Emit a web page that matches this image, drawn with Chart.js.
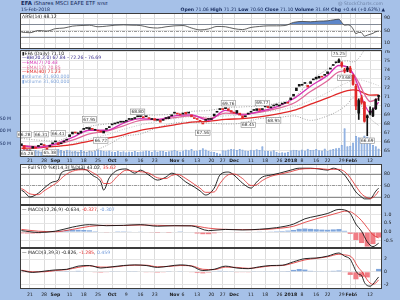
<!DOCTYPE html>
<html>
<head>
<meta charset="utf-8">
<script src="https://cdn.jsdelivr.net/npm/chart.js@4.4.1/dist/chart.umd.min.js"></script>
<style>
  body { margin: 0; width: 400px; height: 300px; background: #a6c1e8; position: relative; overflow: hidden; font-family: "DejaVu Sans", sans-serif; }
  canvas { position: absolute; left: 0; }
  .t { position: absolute; white-space: nowrap; font-size: 4.6px; line-height: 1; color: #14285a; }
  .lg div { height: 4.7px; }
</style>
</head>
<body>
<canvas id="cRsi" width="400" height="36" style="top:13px"></canvas>
<canvas id="cPrice" width="400" height="114" style="top:50px"></canvas>
<canvas id="cSto" width="400" height="41" style="top:164px"></canvas>
<canvas id="cMacd" width="400" height="43" style="top:205px"></canvas>
<canvas id="cMacd2" width="400" height="52" style="top:248px"></canvas>

<div class="t" style="left:21px;top:1px;font-size:5.4px"><b>EFA</b> iShares MSCI EAFE ETF <span style="font-size:4px">NYSE</span></div>
<div class="t" style="left:21px;top:7.6px">15-Feb-2018</div>
<div class="t" style="right:17px;top:1.5px;color:#6f84a8">@ StockCharts.com</div>
<div class="t" style="right:15px;top:7.6px"><b>Open</b> 71.06 <b>High</b> 71.21 <b>Low</b> 70.60 <b>Close</b> 71.10 <b>Volume</b> 31.6M <b>Chg</b> +0.44 (+0.62%) &#9650;</div>

<div class="t" style="left:22px;top:14.5px;color:#222">&#923;RSI(14) 48.12</div>
<div class="t lg" style="left:22px;top:51.5px;color:#222">
  <div>&#9646;EFA (Daily) 71.10</div>
  <div style="color:#3b2f8f">&#8212;BB(20,2.0) 67.84 - 72.26 - 76.69</div>
  <div style="color:#d62fb4">&#8212;EMA(7) 70.43</div>
  <div style="color:#e0689a">&#8212;EMA(12) 70.85</div>
  <div style="color:#e02828">&#8212;EMA(40) 71.23</div>
  <div style="color:#86a9dc">&#9646;Volume 31,600,000</div>
  <div style="color:#86a9dc">&#9646;Volume 31,600,000</div>
</div>
<div class="t" style="left:22px;top:166px;color:#222">&#8212; Full STO %K(14,3) %D(3) 43.02, <span style="color:#e02828">35.62</span></div>
<div class="t" style="left:22px;top:208px;color:#222">&#8212; MACD(12,26,9) -0.634, <span style="color:#e02828">-0.327</span>, <span style="color:#6f98d8">-0.307</span></div>
<div class="t" style="left:22px;top:251px;color:#222">&#8212; MACD(3,39,3) -0.826, <span style="color:#e02828">-1.285</span>, <span style="color:#6f98d8">0.459</span></div>

<script>
// x axis: trading day index (0 = 16 Aug 2017 ... 126 = 15 Feb 2018)
const tickIdx  = [3, 8, 12, 17, 22, 27, 32, 37, 42, 47, 54, 57, 62, 67, 71, 75, 81, 86, 91, 95, 99, 104, 108, 113, 116, 118, 123];
const tickText = ['21','28','Sep','11','18','25','Oct','9','16','23','Nov','6','13','20','27','Dec','11','18','26','2018','8','16','22','29','Feb','5','12'];
const boldTicks = ['Sep','Oct','Nov','Dec','2018','Feb'];

// daily prices
const closes = [65.8,65.2,65.0,65.0,65.5,65.3,65.5,65.8,65.7,65.3,65.6,65.9,
  66.0,65.7,65.9,66.1,66.2,66.8,67.1,67.0,67.0,67.2,67.4,67.5,67.6,67.4,67.4,67.2,67.1,67.2,67.5,67.7,
  67.9,68.1,68.1,68.3,68.3,68.3,68.6,68.6,68.6,68.8,68.8,68.7,68.9,68.6,68.6,68.4,68.4,68.2,68.5,68.7,68.8,69.0,
  69.2,69.1,69.0,69.2,69.1,69.3,68.8,68.7,68.5,68.3,68.0,68.5,68.5,68.6,69.1,69.4,69.7,69.6,69.8,69.5,69.3,
  69.2,69.2,69.0,68.7,68.9,69.2,69.4,69.5,69.7,69.5,69.6,70.0,69.8,69.9,70.1,70.1,70.1,70.2,70.4,70.3,
  70.9,71.3,72.0,72.4,72.4,72.5,72.3,72.7,73.0,73.0,73.3,73.2,73.5,73.8,74.2,74.6,74.9,75.1,74.5,73.9,74.0,
  73.9,72.4,70.0,70.6,70.4,68.3,68.7,69.2,69.6,70.7,71.1];
const opens = [65.6,65.6,65.1,65.0,65.3,65.4,65.5,65.7,65.6,65.0,65.5,65.8,
  66.1,65.9,65.8,66.0,66.2,66.6,66.9,67.0,66.9,67.0,67.4,67.5,67.4,67.5,67.3,67.3,67.2,67.0,67.4,67.6,
  67.9,68.0,68.1,68.2,68.2,68.3,68.5,68.5,68.7,68.8,68.9,68.7,68.8,68.6,68.5,68.6,68.4,68.4,68.4,68.6,68.6,68.9,
  69.3,69.1,69.0,69.1,69.3,69.2,69.0,68.6,68.6,68.3,68.1,68.4,68.6,68.5,68.9,69.3,69.6,69.7,69.7,69.7,69.5,
  69.3,69.5,69.2,68.9,68.8,69.1,69.3,69.5,69.5,69.7,69.6,69.9,70.0,69.8,70.0,70.1,70.0,70.2,70.3,70.4,
  70.7,71.1,71.7,72.2,72.3,72.5,72.1,72.5,72.9,73.2,73.1,73.3,73.4,73.6,74.1,74.5,74.8,74.9,74.8,74.0,74.2,
  74.2,73.4,72.2,69.2,70.9,70.4,68.9,69.4,68.9,69.7,71.06];
const wickIdx = [112,113,114,115,116,117,118,119,120,121,122,123,124,125,126];
const wickHi  = [75.25,74.9,74.2,74.4,74.4,73.5,72.4,70.8,71.2,70.5,69.0,69.9,69.8,70.8,71.21];
const wickLo  = [74.8,74.3,73.68,73.8,73.7,72.3,69.6,68.5,70.2,68.2,66.7,69.0,68.8,69.6,70.6];
// volume, millions
const volume = [28,32,30,25,22,26,24,20,22,30,26,28,
  24,30,26,22,27,25,21,23,20,26,22,19,24,20,23,28,25,22,21,24,
  20,18,22,19,21,17,20,19,22,18,20,21,24,22,19,25,20,23,22,19,21,24,
  26,22,20,24,28,25,30,22,24,27,33,28,22,20,18,15,12,25,24,28,30,
  29,26,30,28,24,22,27,25,29,26,40,24,22,21,25,18,15,17,16,19,
  25,27,26,24,28,24,31,26,27,30,25,24,32,23,28,30,33,35,45,110,40,
  42,55,80,75,60,82,78,52,45,40,31.6];

// overlays
const maIdx = [0,6,12,18,24,30,36,42,48,54,60,66,72,78,84,90,96,102,108,112,115,117,119,121,123,126];
const bbUp  = [66.4,66.2,66.1,66.8,67.7,68.0,68.2,68.9,69.0,69.1,69.4,69.5,69.8,69.9,70.0,70.3,70.9,72.8,74.1,74.9,75.0,74.9,75.3,76.2,76.6,76.69];
const bbMid = [65.6,65.5,65.5,65.8,66.3,66.8,67.4,67.9,68.3,68.6,68.8,68.8,68.9,69.0,69.3,69.5,69.9,70.6,71.5,72.2,72.6,72.9,72.9,72.8,72.6,72.26];
const bbLow = [64.8,64.8,64.9,64.8,64.9,65.6,66.6,66.9,67.6,68.1,68.2,68.1,68.0,68.1,68.6,68.7,68.9,68.4,68.9,69.5,70.2,70.9,70.5,69.4,68.6,67.84];
const ema7  = [65.6,65.4,65.8,66.5,67.3,67.3,68.1,68.6,68.5,68.9,69.0,68.4,69.5,69.0,69.4,69.9,70.8,72.2,73.4,74.5,74.3,73.6,72.0,70.2,69.3,70.43];
const ema12 = [65.6,65.5,65.7,66.2,66.9,67.2,67.8,68.4,68.5,68.7,68.9,68.6,69.2,69.1,69.3,69.7,70.3,71.6,72.8,73.8,73.9,73.6,72.6,71.3,70.5,70.85];
const ema40 = [65.3,65.35,65.5,65.7,66.1,66.4,66.8,67.3,67.6,67.9,68.2,68.3,68.5,68.6,68.8,69.1,69.5,70.2,70.9,71.4,71.7,71.8,71.7,71.4,71.2,71.23];

// price annotations
const lblIdx = [1, 7, 13, 2, 10, 24, 28, 41, 64, 73, 80, 85, 89, 112, 114, 122];
const lblVal = [66.28,66.31,66.41,65.28,65.38,67.95,66.72,68.80,67.56,69.76,68.45,69.77,68.95,75.25,73.68,66.69];
const lblUp  = [1,1,1,0,0,1,0,1,0,1,0,1,0,1,0,0];

// RSI(14)
const rsiIdx = [0,3,6,9,12,15,18,21,24,27,30,33,36,39,42,45,48,51,54,57,60,63,66,69,72,75,78,81,84,87,90,93,96,99,102,105,108,110,112,113,114,115,116,117,118,119,120,121,122,123,124,125,126];
const rsiVal = [45,43,50,48,56,58,64,66,67,62,64,67,68,67,66,60,58,62,65,66,58,52,55,63,62,56,53,60,63,65,65,66,76,79,78,80,81,84,86,76,67,68,66,55,40,44,43,32,35,38,41,46,48.12];
const rsiLevels = [30, 50, 70];

// Full STO
const stoIdx = [0,1,3,6,8,11,13,14,17,21,23,25,28,29,31,34,37,40,42,45,48,51,53,55,58,61,63,65,68,70,73,75,78,81,83,85,88,91,95,98,102,105,108,110,112,114,116,118,120,121,123,125,126];
const stoK = [38,33,20,30,43,59,64,82,90,93,90,77,59,38,70,90,93,82,90,77,64,72,82,77,59,46,36,25,43,77,85,77,56,43,59,72,77,82,90,95,95,93,90,95,90,77,56,33,20,15,15,35,43.02];
const stoD = [42,38,28,26,36,50,60,68,84,91,91,84,68,55,55,75,90,87,86,82,70,68,76,79,68,53,43,32,33,55,78,80,68,50,52,63,74,79,86,92,94,94,92,92,92,86,70,48,28,22,16,25,35.62];
const stoLevels = [20, 50, 80];

// MACD(12,26,9)
const macdIdx = [0,6,12,18,24,30,36,42,48,54,60,66,72,78,84,90,96,100,104,108,112,114,116,118,120,122,124,126];
const macdLine = [0.08,-0.02,0.05,0.28,0.42,0.36,0.38,0.42,0.33,0.36,0.35,0.08,0.15,0.12,0.16,0.25,0.45,0.75,0.9,1.05,1.28,1.25,1.05,0.45,0.05,-0.55,-0.82,-0.634];
const macdSig  = [0.15,0.05,0.02,0.15,0.32,0.38,0.37,0.40,0.38,0.36,0.36,0.22,0.15,0.14,0.14,0.2,0.33,0.55,0.75,0.92,1.1,1.18,1.15,0.95,0.65,0.25,-0.15,-0.327];
// histogram, one value every 2 trading days
const macdHist = [-0.07,-0.08,-0.08,-0.07,-0.05,0.0,0.03,0.07,0.10,0.13,
  0.13,0.12,0.10,0.05,0.0,-0.02,0.0,0.01,0.01,0.02,
  0.03,0.02,0.0,-0.02,-0.05,-0.03,-0.01,0.0,0.01,0.0,
  -0.03,-0.08,-0.12,-0.12,-0.07,-0.02,0.0,0.0,-0.02,-0.03,
  -0.02,0.0,0.02,0.03,0.04,0.05,0.06,0.08,0.12,0.18,
  0.20,0.18,0.16,0.14,0.13,0.15,0.17,0.07,-0.10,-0.45,
  -0.62,-0.82,-0.68,-0.307];

// MACD(3,39,3)
const m2Idx = [0,4,8,12,16,20,24,28,32,36,40,44,48,52,56,60,64,68,72,76,80,84,88,92,96,100,104,108,112,114,116,117,118,119,120,121,122,123,124,125,126];
const m2Line = [0.2,-0.1,0.1,0.3,0.4,0.9,1.0,0.6,0.8,1.0,1.1,1.0,0.7,0.9,1.1,0.9,0.2,0.4,0.9,0.6,0.5,0.8,1.0,1.05,1.6,2.1,2.2,2.5,3.0,2.5,2.0,1.1,0.1,-0.4,-0.6,-1.7,-2.2,-2.3,-2.0,-1.4,-0.826];
const m2Sig  = [0.25,0.0,0.0,0.2,0.35,0.7,0.95,0.75,0.75,0.95,1.05,1.05,0.8,0.85,1.0,0.95,0.4,0.35,0.75,0.7,0.55,0.7,0.95,1.0,1.4,1.9,2.15,2.4,2.8,2.7,2.5,2.1,1.3,0.6,0.1,-0.6,-1.3,-1.8,-2.0,-1.8,-1.285];
const m2Hist = [-0.05,-0.1,-0.1,0.05,0.05,0.05,0.1,0.05,0.03,0.1,
  0.15,0.1,0.08,-0.05,-0.15,-0.1,0.05,0.1,0.08,0.05,
  0.05,0.0,-0.05,-0.1,-0.15,-0.05,0.05,0.08,0.05,0.0,
  -0.1,-0.2,-0.25,-0.15,0.05,0.15,0.12,0.05,-0.05,-0.1,
  -0.05,0.05,0.1,0.05,0.05,0.05,0.05,0.03,0.3,0.45,
  0.35,0.15,0.05,0.05,0.1,0.15,0.2,-0.1,-0.5,-1.2,
  -0.8,-0.9,0.0,0.459];
const histStep = 2;

// ---------------------------------------------------------------
const X_MIN = -0.5, X_MAX = 127.2;
const RED = '#e02828', BLUE_H = '#7fa6dc', RED_H = '#f07c84';

Chart.defaults.font.family = '"DejaVu Sans", sans-serif';
Chart.defaults.font.size = 4.6;
Chart.defaults.color = '#1a1a1a';

// white plot area + dark frame for every panel
Chart.register({
  id: 'panelFrame',
  beforeDraw(c) {
    const a = c.chartArea, g = c.ctx;
    g.save(); g.fillStyle = '#fff'; g.fillRect(a.left, a.top, a.width, a.height); g.restore();
  },
  afterDraw(c) {
    const a = c.chartArea, g = c.ctx;
    g.save(); g.strokeStyle = '#3c3c3c'; g.lineWidth = 1;
    g.strokeRect(a.left + 0.5, a.top + 0.5, a.width - 1, a.height - 1); g.restore();
  }
});

function refLines(levels) {
  return {
    id: 'refLines',
    beforeDatasetsDraw(c) {
      const y = c.scales.y, a = c.chartArea, g = c.ctx;
      levels.forEach((v, i) => {
        const py = Math.round(y.getPixelForValue(v)) + 0.5;
        g.save();
        g.strokeStyle = i === 1 ? '#9a9a9a' : '#8c8c8c';
        g.setLineDash(i === 1 ? [3, 1, 1, 1] : []);
        g.beginPath(); g.moveTo(a.left, py); g.lineTo(a.right, py); g.stroke();
        g.restore();
      });
    }
  };
}

const priceLabels = {
  id: 'priceLabels',
  afterDatasetsDraw(c) {
    const xs = c.scales.x, ys = c.scales.y, g = c.ctx;
    g.save();
    g.font = '4.3px "DejaVu Sans", sans-serif';
    g.textAlign = 'center'; g.textBaseline = 'middle';
    lblIdx.forEach((ix, k) => {
      const txt = lblVal[k].toFixed(2);
      const w = g.measureText(txt).width + 2, h = 5.5;
      const px = xs.getPixelForValue(ix);
      const py = ys.getPixelForValue(lblVal[k]) + (lblUp[k] ? -5 : 5);
      g.fillStyle = '#fff'; g.strokeStyle = '#8a8a8a'; g.lineWidth = 0.6;
      g.fillRect(px - w / 2, py - h / 2, w, h);
      g.strokeRect(px - w / 2, py - h / 2, w, h);
      g.fillStyle = '#333';
      g.fillText(txt, px, py + 0.3);
    });
    g.restore();
  }
};

function xAxis(labelH) {
  return {
    type: 'linear', min: X_MIN, max: X_MAX, offset: false,
    afterBuildTicks: s => { s.ticks = tickIdx.map(v => ({ value: v })); },
    afterFit: s => { s.height = labelH; s.paddingLeft = 0; s.paddingRight = 0; },
    grid: { color: '#dcdcdc', drawTicks: false, offset: false },
    border: { display: false },
    ticks: {
      display: labelH > 0, autoSkip: false, maxRotation: 0, minRotation: 0,
      padding: labelH > 8 ? 3 : 1.5, color: '#1a1a1a',
      font: c => ({ size: 4.6, weight: boldTicks.includes(tickText[c.index]) ? 'bold' : 'normal' }),
      callback: (v, i) => tickText[i]
    }
  };
}

function yAxis(min, max, ticks, fmt) {
  return {
    position: 'right', min, max,
    afterBuildTicks: s => { s.ticks = ticks.map(v => ({ value: v })); },
    afterFit: s => { s.width = 18; s.paddingTop = 0; s.paddingBottom = 0; },
    grid: { color: '#e4e4e4', drawTicks: false },
    border: { display: false },
    ticks: { padding: 2, color: '#1a1a1a', callback: fmt || (v => v) }
  };
}

const pts = (xs, ys) => xs.map((x, i) => ({ x, y: ys[i] }));
function line(xs, ys, color, width, extra) {
  return Object.assign({
    type: 'line', data: pts(xs, ys), borderColor: color, borderWidth: width,
    pointRadius: 0, fill: false, cubicInterpolationMode: 'monotone'
  }, extra || {});
}
function histogram(vals, order) {
  return {
    type: 'bar', grouped: false, order: order,
    data: vals.map((v, i) => ({ x: i * histStep, y: v })),
    backgroundColor: vals.map(v => v >= 0 ? BLUE_H : RED_H),
    barPercentage: 1, categoryPercentage: 0.9
  };
}
function baseOptions(scales, padLeft) {
  return {
    responsive: false, animation: false, devicePixelRatio: 1, events: [],
    layout: { padding: { left: padLeft, right: 0, top: 0, bottom: 0 } },
    plugins: { legend: { display: false }, tooltip: { enabled: false } },
    scales
  };
}

// RSI panel
new Chart(document.getElementById('cRsi'), {
  type: 'line',
  data: { datasets: [
    line(rsiIdx, rsiVal, '#3a3a3a', 0.8, { fill: { target: { value: 70 }, above: '#5d86c9', below: 'rgba(0,0,0,0)' } }),
    line(rsiIdx, rsiVal, 'rgba(0,0,0,0)', 0, { fill: { target: { value: 30 }, above: 'rgba(0,0,0,0)', below: '#5d86c9' } })
  ] },
  options: baseOptions({ x: xAxis(0), y: yAxis(-9, 106, [10, 30, 50, 70, 90]) }, 20),
  plugins: [refLines(rsiLevels)]
});

// price + volume panel
const candleColor = i => closes[i] < (i ? closes[i - 1] : opens[i]) ? RED : '#111';
const priceY = yAxis(64.33, 76.22, [65, 66, 67, 68, 69, 70, 71, 72, 73, 74, 75, 76]);
new Chart(document.getElementById('cPrice'), {
  type: 'line',
  data: { datasets: [
    { type: 'bar', yAxisID: 'yv', grouped: false, order: 20,
      data: volume.map((v, i) => ({ x: i, y: v * 1e6 })),
      backgroundColor: '#93b3e2', borderColor: '#7a9fd6', borderWidth: { top: 0.5, left: 0, right: 0, bottom: 0 }, barThickness: 2 },
    line(maIdx, bbUp, '#8c8c8c', 0.8, { borderDash: [1, 1.5], order: 10 }),
    line(maIdx, bbMid, '#a0a0a0', 0.6, { borderDash: [1, 1.5], order: 10 }),
    line(maIdx, bbLow, '#8c8c8c', 0.8, { borderDash: [1, 1.5], order: 10 }),
    line(maIdx, ema40, RED, 1.3, { order: 8 }),
    line(maIdx, ema12, '#e0689a', 1.3, { order: 7 }),
    line(maIdx, ema7, '#d62fb4', 1.3, { order: 6 }),
    { type: 'bar', grouped: false, order: 3,
      data: wickIdx.map((x, k) => ({ x, y: [wickLo[k], wickHi[k]] })),
      backgroundColor: wickIdx.map(i => candleColor(i)), barThickness: 1 },
    { type: 'bar', grouped: false, order: 2, minBarLength: 1,
      data: closes.map((c, i) => ({ x: i, y: [opens[i], c] })),
      backgroundColor: closes.map((c, i) => candleColor(i)), barThickness: 2 }
  ] },
  options: baseOptions({
    x: xAxis(7),
    y: priceY,
    yv: {
      position: 'left', min: 0, max: 415e6,
      afterBuildTicks: s => { s.ticks = [50e6, 100e6, 150e6].map(v => ({ value: v })); },
      afterFit: s => { s.width = 20; s.paddingTop = 0; s.paddingBottom = 0; },
      grid: { display: false }, border: { display: false },
      ticks: { padding: 1, color: '#14285a', callback: v => (v / 1e6) + ' M' }
    }
  }, 0),
  plugins: [priceLabels]
});

// Full STO panel
new Chart(document.getElementById('cSto'), {
  type: 'line',
  data: { datasets: [
    line(stoIdx, stoD, RED, 0.8),
    line(stoIdx, stoK, '#111', 0.9)
  ] },
  options: baseOptions({ x: xAxis(0), y: yAxis(-1, 106, [20, 50, 80]) }, 20),
  plugins: [refLines(stoLevels)]
});

// MACD(12,26,9)
new Chart(document.getElementById('cMacd'), {
  type: 'line',
  data: { datasets: [
    histogram(macdHist, 5),
    line(macdIdx, macdSig, RED, 0.8, { order: 2 }),
    line(macdIdx, macdLine, '#111', 0.9, { order: 1 })
  ] },
  options: baseOptions({ x: xAxis(0), y: yAxis(-0.9, 1.53, [-0.5, 0, 0.5, 1.0], v => v.toFixed(1)) }, 20)
});

// MACD(3,39,3)
new Chart(document.getElementById('cMacd2'), {
  type: 'line',
  data: { datasets: [
    histogram(m2Hist, 5),
    line(m2Idx, m2Sig, RED, 0.8, { order: 2 }),
    line(m2Idx, m2Line, '#111', 0.9, { order: 1 })
  ] },
  options: baseOptions({ x: xAxis(11), y: yAxis(-2.75, 3.8, [-2, -1, 0, 1, 2, 3]) }, 20)
});
</script>
</body>
</html>
